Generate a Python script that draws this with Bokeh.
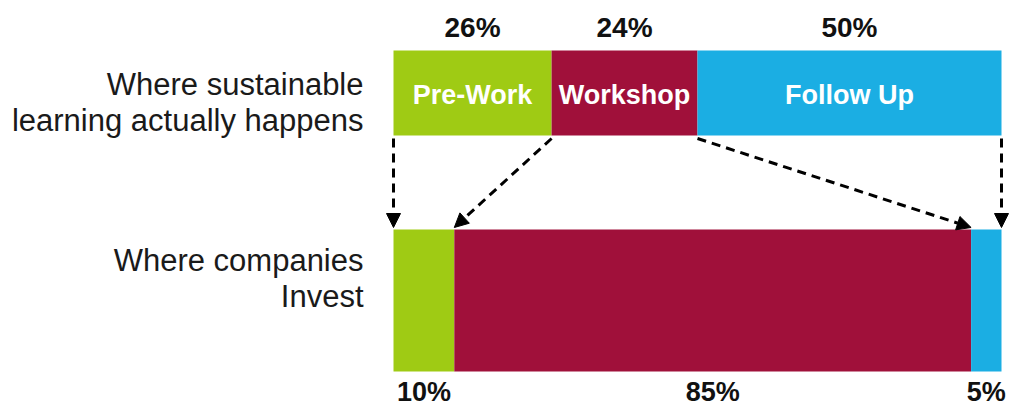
from bokeh.plotting import figure
from bokeh.models import Range1d, ColumnDataSource, Arrow, NormalHead
from bokeh.core.properties import value
from bokeh.embed import file_html
from bokeh.resources import INLINE
import numpy as np

# ---- data ----
segments = ["Pre-Work", "Workshop", "Follow Up"]
learning_happens = [26, 24, 50]      # % where sustainable learning actually happens
companies_invest = [10, 85, 5]       # % where companies invest
row_labels = [["Where sustainable", "learning actually happens"],
              ["Where companies", "Invest"]]
seg_colors = ["#9FCB14", "#A0103A", "#1BAEE3"]

# ---- layout (pixel-like units: x in % of bar, y in px from top) ----
W, H = 1016, 407
bar_left_px, bar_right_px = 393, 1001
scale = (bar_right_px - bar_left_px) / 100.0
x0 = -bar_left_px / scale
x1 = (W - bar_left_px) / scale

top_bar = (50, 135)
bot_bar = (229, 371)

p = figure(width=W, height=H, output_backend="svg", toolbar_location=None,
           x_range=Range1d(x0, x1), y_range=Range1d(H, 0),
           min_border=0, min_border_left=0, min_border_right=0,
           min_border_top=0, min_border_bottom=0)
p.axis.visible = False
p.grid.visible = False
p.outline_line_color = None
p.background_fill_color = "white"
p.border_fill_color = "white"

font = "Liberation Sans"

def stack(vals):
    right = np.cumsum(vals)
    left = right - np.array(vals)
    return left, right

tl, tr = stack(learning_happens)
bl, br = stack(companies_invest)

# bars
top_src = ColumnDataSource(dict(left=tl, right=tr, color=seg_colors,
                                seg=segments,
                                pct=[f"{v}%" for v in learning_happens],
                                mid=(tl + tr) / 2))
bot_src = ColumnDataSource(dict(left=bl, right=br, color=seg_colors,
                                pct=[f"{v}%" for v in companies_invest],
                                mid=(bl + br) / 2))
p.hbar(y=(top_bar[0] + top_bar[1]) / 2, left="left", right="right",
       height=top_bar[1] - top_bar[0],
       fill_color="color", line_color=None, source=top_src)
p.hbar(y=(bot_bar[0] + bot_bar[1]) / 2, left="left", right="right",
       height=bot_bar[1] - bot_bar[0],
       fill_color="color", line_color=None, source=bot_src)

# segment names inside top bar
p.text(x="mid", y=94, text="seg", source=top_src,
       text_font=value(font), text_font_size="27px", text_font_style="bold",
       text_color="white", text_align="center", text_baseline="alphabetic")

# percentages above the top bar
p.text(x="mid", y=27, text="pct", source=top_src,
       text_font=value(font), text_font_size="28px", text_font_style="bold",
       text_color="#111111", text_align="center", text_baseline="alphabetic")

# percentages below the bottom bar
p.text(x="mid", y=391, text="pct", source=bot_src,
       text_font=value(font), text_font_size="27px", text_font_style="bold",
       text_color="#111111", text_align="center", text_baseline="alphabetic")

# row labels
lab_x = (363 - bar_left_px) / scale
row_baselines = [[84, 120], [260, 296]]
for lines, bases in zip(row_labels, row_baselines):
    p.text(x=[lab_x] * len(lines), y=bases, text=lines,
           text_font=value(font), text_font_size="31px",
           text_color="#1a1a1a", text_align="right", text_baseline="alphabetic")

# dashed arrows from top boundaries to bottom boundaries
top_bounds = np.concatenate([[0], tr])
bot_bounds = np.concatenate([[0], br])
arr_src = ColumnDataSource(dict(xs=top_bounds, ys=[top_bar[1] + 3] * 4,
                                xe=bot_bounds, ye=[bot_bar[0] - 2] * 4))
p.add_layout(Arrow(end=NormalHead(size=14, fill_color="black", line_color="black",
                                  line_width=1),
                   x_start="xs", y_start="ys", x_end="xe", y_end="ye",
                   line_color="black", line_width=3, line_dash="9 6",
                   source=arr_src))

open("out.html", "w").write(file_html(p, INLINE))
